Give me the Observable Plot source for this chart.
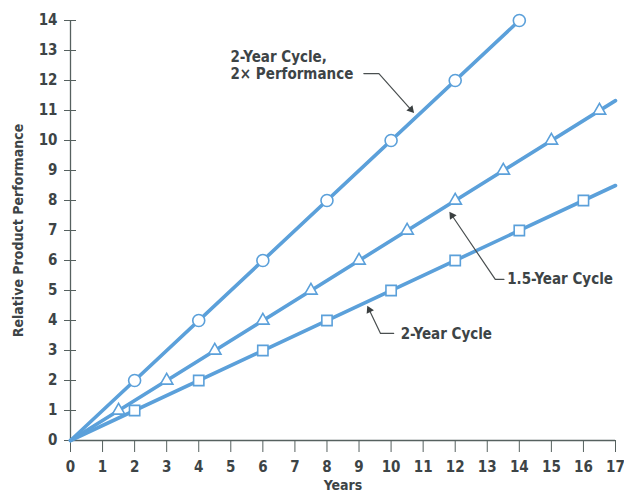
<!DOCTYPE html>
<html>
<head>
<meta charset="utf-8">
<script src="https://cdn.jsdelivr.net/npm/d3@7"></script>
<script src="https://cdn.jsdelivr.net/npm/@observablehq/plot@0.6"></script>
<style>
  html, body { margin: 0; padding: 0; background: #fff; }
  #chart { width: 624px; height: 492px; }
</style>
</head>
<body>
<div id="chart"></div>
<script>
// ---- data ----
const years2x = [2, 4, 6, 8, 10, 12, 14];
const perf2x  = [2, 4, 6, 8, 10, 12, 14];
const years15 = [1.5, 3, 4.5, 6, 7.5, 9, 10.5, 12, 13.5, 15, 16.5];
const perf15  = [1, 2, 3, 4, 5, 6, 7, 8, 9, 10, 11];
const years2  = [2, 4, 6, 8, 10, 12, 14, 16];
const perf2   = [1, 2, 3, 4, 5, 6, 7, 8];
// line endpoints (lines start at origin, run to end of axis)
const line2xX = [0, 14],  line2xY = [0, 14];
const line15X = [0, 17],  line15Y = [0, 11.33];
const line2X  = [0, 17],  line2Y  = [0, 8.5];
const xTicks = d3.range(0, 18);
const yTicks = d3.range(0, 15);
const labels = ["2-Year Cycle,", "2\u00d7 Performance", "1.5-Year Cycle", "2-Year Cycle"];

// annotation placement (data coordinates)
const annText = [
  {t: labels[0], x: 4.99, y: 12.77},
  {t: labels[1], x: 4.99, y: 12.22},
  {t: labels[2], x: 13.62, y: 5.37},
  {t: labels[3], x: 10.3, y: 3.55}
];
const leaders = [
  [[9.15, 12.23], [9.62, 12.23], [10.62, 11.03]],
  [[13.52, 5.37], [13.25, 5.37], [11.9, 7.5]],
  [[10.08, 3.57], [9.67, 3.57], [9.32, 4.35]]
];

const blue = "#5ba0da";
const ink = "#3d4446";
const axisInk = "#56615f";
const font = "'Liberation Sans Narrow', 'DejaVu Sans Condensed', 'Roboto', sans-serif";

const pts = (xs, ys, s) => xs.map((x, i) => ({x, y: ys[i], s}));
const lines = [
  ...pts(line2xX, line2xY, "a"),
  ...pts(line15X, line15Y, "b"),
  ...pts(line2X, line2Y, "c")
];
const leaderPts = leaders.flatMap((l, k) => l.map(([x, y]) => ({x, y, k})));

function build(angles) {
  const tips = leaders.map((l, k) => ({x: l[l.length - 1][0], y: l[l.length - 1][1], a: angles[k]}));
  return Plot.plot({
    width: 624,
    height: 492,
    marginLeft: 70,
    marginRight: 9,
    marginTop: 20,
    marginBottom: 52,
    style: {fontFamily: font, fontSize: "15px", color: ink, background: "#fff", fontWeight: "bold"},
    x: {domain: [0, 17]},
    y: {domain: [0, 14]},
    marks: [
      Plot.ruleY([0], {stroke: axisInk, strokeWidth: 1.3}),
      Plot.ruleX([0], {stroke: axisInk, strokeWidth: 1.3}),
      Plot.axisX(xTicks, {tickSize: 12, insetTop: 6, tickPadding: 9, stroke: axisInk, fill: ink, fontSize: 15, label: null}),
      Plot.axisY(yTicks, {tickSize: 12, insetLeft: 6, tickPadding: 7, stroke: axisInk, fill: ink, fontSize: 15, label: null}),
      Plot.text(["Years"], {frameAnchor: "bottom", dy: 49, fill: ink, fontSize: 14}),
      Plot.text(["Relative Product Performance"], {frameAnchor: "left", textAnchor: "middle", rotate: -90, dx: -52, fill: ink, fontSize: 14}),
      Plot.line(lines, {x: "x", y: "y", z: "s", stroke: blue, strokeWidth: 3.6}),
      Plot.dot(pts(years2x, perf2x), {x: "x", y: "y", symbol: "circle", r: 6, fill: "#fff", stroke: blue, strokeWidth: 1.6}),
      Plot.dot(pts(years15, perf15), {x: "x", y: "y", symbol: "triangle", r: 4.6, fill: "#fff", stroke: blue, strokeWidth: 1.6}),
      Plot.dot(pts(years2, perf2), {x: "x", y: "y", symbol: "square", r: 5.8, fill: "#fff", stroke: blue, strokeWidth: 1.6}),
      Plot.line(leaderPts, {x: "x", y: "y", z: "k", stroke: "#4a4f50", strokeWidth: 1.2}),
      Plot.dot(tips, {x: "x", y: "y", symbol: "triangle", r: 3, fill: "#3a3f40", stroke: null, rotate: "a"}),
      Plot.text(annText, {x: "x", y: "y", text: "t", textAnchor: "start", fill: ink, fontSize: 15})
    ]
  });
}

// first pass to get scales, then compute arrowhead angles in pixel space
const probe = build([0, 0, 0]);
const sx = probe.scale("x"), sy = probe.scale("y");
const angles = leaders.map(l => {
  const [x0, y0] = l[l.length - 2], [x1, y1] = l[l.length - 1];
  const dx = sx.apply(x1) - sx.apply(x0), dy = sy.apply(y1) - sy.apply(y0);
  return Math.atan2(dx, -dy) * 180 / Math.PI;
});
document.getElementById("chart").append(build(angles));
</script>
</body>
</html>
